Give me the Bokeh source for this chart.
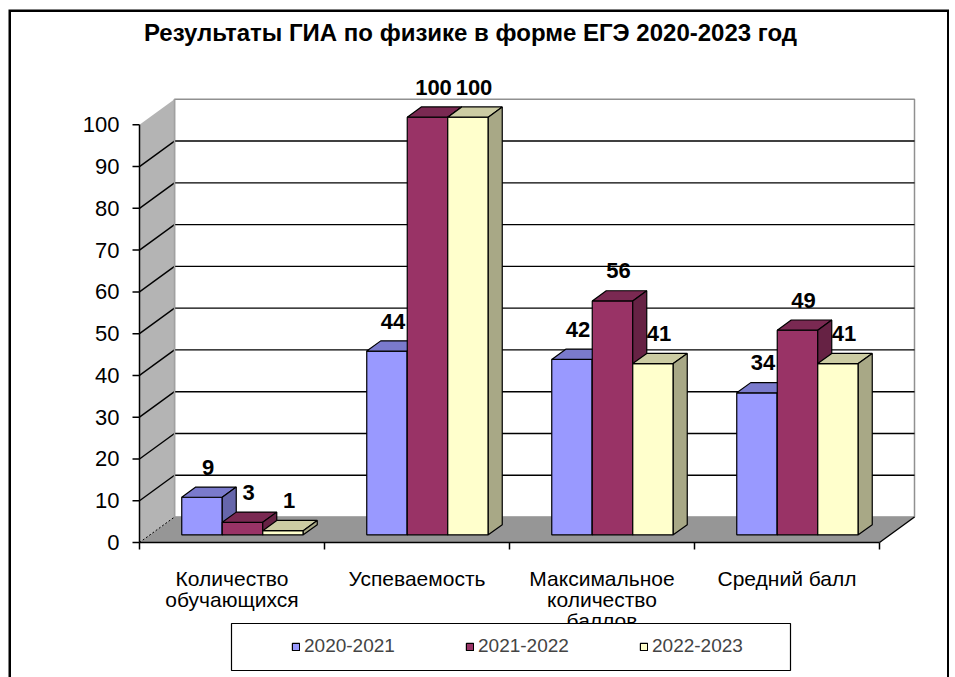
from bokeh.plotting import figure
from bokeh.models import Legend, LegendItem
from bokeh.core.properties import value
from bokeh.embed import file_html
from bokeh.resources import INLINE

# ---------------- data ----------------
title_text = "Результаты ГИА по физике в форме ЕГЭ 2020-2023 год"
categories = ["Количество\nобучающихся", "Успеваемость",
              "Максимальное\nколичество\nбаллов", "Средний балл"]
series_names = ["2020-2021", "2021-2022", "2022-2023"]
values_2020_2021 = [9, 44, 42, 34]
values_2021_2022 = [3, 100, 56, 49]
values_2022_2023 = [1, 100, 41, 41]
y_ticks = [0, 10, 20, 30, 40, 50, 60, 70, 80, 90, 100]

series_values = [values_2020_2021, values_2021_2022, values_2022_2023]
front_colors = ["#9999ff", "#993366", "#ffffcc"]
top_colors = ["#7a7acc", "#7a2952", "#cccca3"]
side_colors = ["#6666ab", "#662244", "#a8a886"]

FONT = value("Liberation Sans")

# ---------------- layout (pixels, page coordinates) ----------------
FL, FT = 8, 9           # frame left / top
W, H = 949, 677         # figure size
FW, FH = W - FL, H - FT  # frame size
X0_PX, XN_PX = 139.0, 879.0
Y0_PX, YMAX_PX = 542.0, 124.3
ncat = len(categories)
ymax = y_ticks[-1]
sx = (XN_PX - X0_PX) / ncat
sy = (Y0_PX - YMAX_PX) / ymax
x_start = -(X0_PX - FL) / sx
x_end = x_start + FW / sx
y_end = ymax + (YMAX_PX - FT) / sy
y_start = y_end - FH / sy


def px_x(X):
    return x_start + (X - FL) / sx


def px_y(Y):
    return y_end - (Y - FT) / sy


DX = 35.0 / sx
DY = 25.5 / sy
F0, F1 = 0.3, 0.7
BW = 40.5 / sx
G0 = (1 - len(series_names) * BW) / 2

p = figure(width=W, height=H, x_range=(x_start, x_end), y_range=(y_start, y_end),
           output_backend="svg", toolbar_location=None,
           x_axis_location=None, y_axis_location=None,
           min_border_left=FL, min_border_top=FT, min_border_right=0, min_border_bottom=0,
           outline_line_color=None,
           background_fill_color="white", border_fill_color="white")
p.xgrid.visible = False
p.ygrid.visible = False

# back wall
p.quad(left=[DX], right=[ncat + DX], bottom=[DY], top=[ymax + DY],
       fill_color="white", line_color="#909090", line_width=1.5)
# side wall
p.patch([0, 0, DX, DX], [0, ymax, ymax + DY, DY], fill_color="#b4b4b4", line_color=None)
# gridlines
inner = y_ticks[1:-1]
p.segment(x0=[DX] * len(inner), y0=[v + DY for v in inner],
          x1=[ncat + DX] * len(inner), y1=[v + DY for v in inner],
          line_color="black", line_width=1.4)
p.segment(x0=[0] * len(inner), y0=inner, x1=[DX] * len(inner), y1=[v + DY for v in inner],
          line_color="black", line_width=1.4)
p.line([DX, DX], [DY, ymax + DY], line_color="#a0a0a0", line_width=1.5)
# floor
p.patch([0, ncat, ncat + DX, DX], [0, 0, DY, DY], fill_color="#969696", line_color=None)
p.line([0, DX], [0, DY], line_color="black", line_width=1, line_dash="2 2")
p.line([ncat, ncat + DX], [0, DY], line_color="black", line_width=1.4)
p.line([0, ncat], [0, 0], line_color="black", line_width=1.5)
# value axis
p.line([0, 0], [0, ymax], line_color="black", line_width=1.5)
p.segment(x0=[0] * len(y_ticks), y0=y_ticks, x1=[-7.0 / sx] * len(y_ticks), y1=y_ticks,
          line_color="black", line_width=1.5)
cat_edges = list(range(ncat + 1))
p.segment(x0=cat_edges, y0=[0] * len(cat_edges), x1=cat_edges, y1=[-7.0 / sy] * len(cat_edges),
          line_color="black", line_width=1.5)
p.text(x=[0] * len(y_ticks), y=y_ticks, text=[str(v) for v in y_ticks],
       text_align="right", text_baseline="middle", x_offset=-20,
       text_font=FONT, text_font_size="22px", text_color="black")

# bars
dDX = (F1 - F0) * DX
dDY = (F1 - F0) * DY
legend_items = []
for i, (name, vals) in enumerate(zip(series_names, series_values)):
    lefts = [c + G0 + i * BW + F0 * DX for c in range(ncat)]
    rights = [l + BW for l in lefts]
    bottoms = [F0 * DY] * ncat
    tops = [v + F0 * DY for v in vals]
    fr = p.quad(left=lefts, right=rights, bottom=bottoms, top=tops,
                fill_color=front_colors[i], line_color="black", line_width=1.2)
    p.patches(xs=[[l, r, r + dDX, l + dDX] for l, r in zip(lefts, rights)],
              ys=[[t, t, t + dDY, t + dDY] for t in tops],
              fill_color=top_colors[i], line_color="black", line_width=1.2)
    p.patches(xs=[[r, r + dDX, r + dDX, r] for r in rights],
              ys=[[b, b + dDY, t + dDY, t] for b, t in zip(bottoms, tops)],
              fill_color=side_colors[i], line_color="black", line_width=1.2)
    p.text(x=[(l + r) / 2 for l, r in zip(lefts, rights)], y=tops, text=[str(v) for v in vals],
           text_align="center", text_baseline="middle", x_offset=6, y_offset=-30,
           text_font=FONT, text_font_size="22px", text_font_style="bold", text_color="black")
    legend_items.append(LegendItem(label=name, renderers=[fr]))

# category labels
p.text(x=[c + 0.5 for c in range(ncat)], y=[0] * ncat, text=categories,
       text_align="center", text_baseline="top", y_offset=24, text_line_height=0.93,
       text_font=FONT, text_font_size="21px", text_color="black")

# title
p.text(x=[px_x(470)], y=[px_y(32)], text=[title_text], text_align="center", text_baseline="middle",
       text_font=FONT, text_font_size="24px", text_font_style="bold", text_color="black")

# legend box
p.quad(left=[px_x(231)], right=[px_x(790)], bottom=[px_y(670)], top=[px_y(623)],
       fill_color="white", line_color="black", line_width=1.2)
legend = Legend(items=legend_items, orientation="horizontal", location=(291 - FL, H - 657),
                border_line_color=None, background_fill_alpha=0, padding=0, margin=0,
                spacing=0, glyph_width=9, glyph_height=9, label_standoff=4,
                label_width=161, label_height=20,
                label_text_font="Liberation Sans", label_text_font_size="19px")
p.add_layout(legend)

# outer chart border (left, top, right; bottom is cut off by the window)
p.line([x_start, x_start, x_end, x_end], [y_start, y_end, y_end, y_start],
       line_color="black", line_width=5)

open("out.html", "w").write(file_html(p, INLINE))
